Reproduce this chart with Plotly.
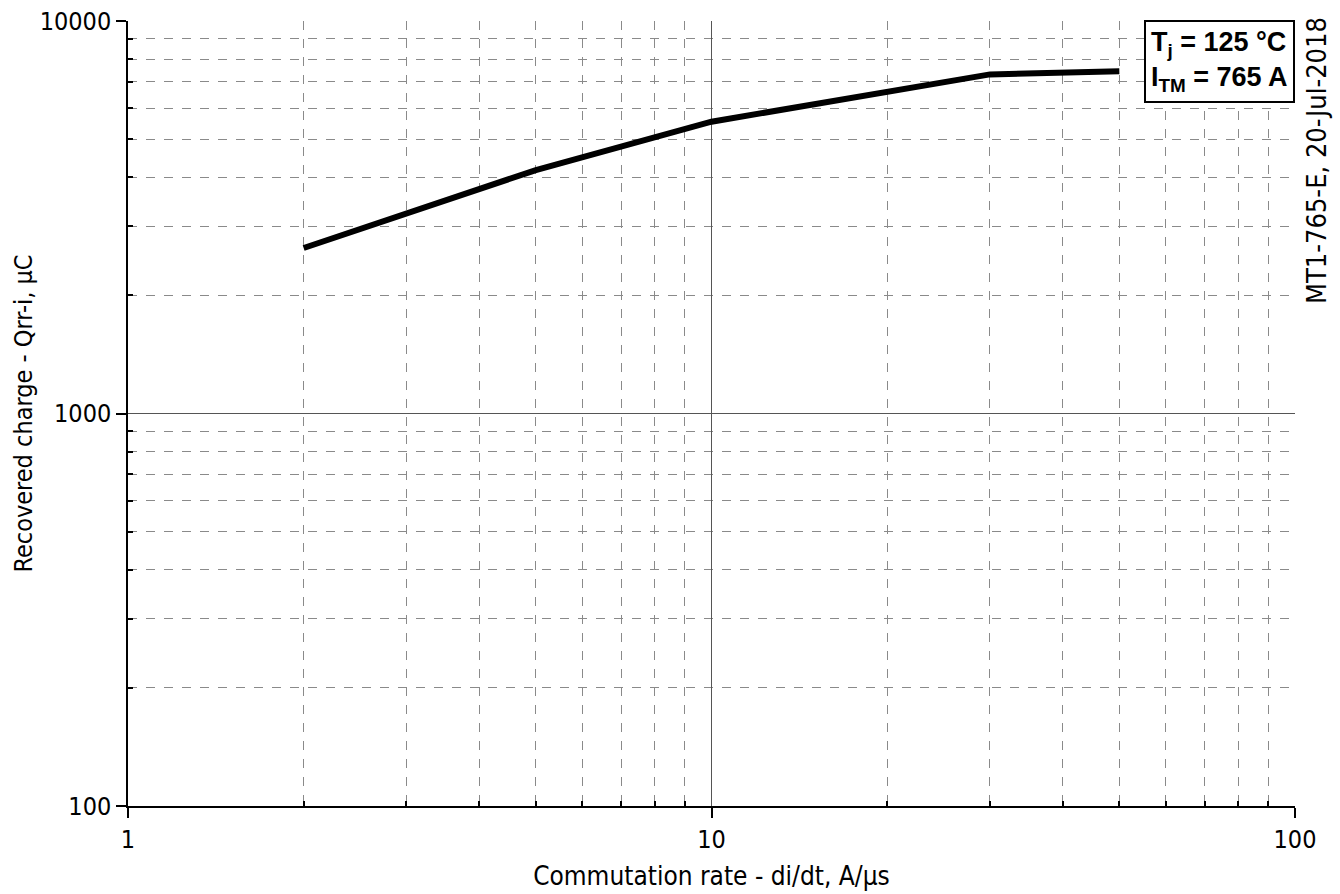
import plotly.graph_objects as go

# Data
di_dt = [2, 5, 10, 30, 50]            # A/µs
qrr = [2640, 4170, 5540, 7310, 7450]  # µC

x_major = [1, 10, 100]
x_minor = [2, 3, 4, 5, 6, 7, 8, 9, 20, 30, 40, 50, 60, 70, 80, 90]
y_major = [100, 1000, 10000]
y_minor = [200, 300, 400, 500, 600, 700, 800, 900,
           2000, 3000, 4000, 5000, 6000, 7000, 8000, 9000]

FONT = "DejaVu Sans Condensed, DejaVu Sans"

fig = go.Figure()
fig.add_trace(go.Scatter(x=di_dt, y=qrr, mode="lines",
                         line=dict(color="black", width=6), showlegend=False))

axis_common = dict(
    type="log", automargin=False,
    showline=True, linecolor="black", linewidth=1.5,
    showgrid=True, gridcolor="#555555", gridwidth=1,
    ticks="outside", ticklen=10, tickcolor="black", tickwidth=1.5,
    tickfont=dict(family=FONT, size=25, color="black"),
    zeroline=False, mirror=False,
)

fig.update_xaxes(
    **axis_common,
    range=[0, 2],
    tickvals=x_major, ticktext=[str(v) for v in x_major],
    minor=dict(tickvals=x_minor, showgrid=True, gridcolor="#8a8a8a",
               griddash="dash", gridwidth=1, ticks="inside", ticklen=5,
               tickcolor="black"),
    title=dict(text="Commutation rate - di/dt, A/µs",
               font=dict(family=FONT, size=26, color="black"), standoff=14),
)
fig.update_yaxes(
    **axis_common,
    range=[2, 4],
    tickvals=y_major, ticktext=[str(v) for v in y_major],
    minor=dict(tickvals=y_minor, showgrid=True, gridcolor="#8a8a8a",
               griddash="dash", gridwidth=1, ticks="inside", ticklen=5,
               tickcolor="black"),
    title=dict(text="Recovered charge - Qrr-i, µC",
               font=dict(family=FONT, size=25, color="black"), standoff=0),
)

fig.add_annotation(
    xref="paper", yref="paper", x=1, y=1, xanchor="right", yanchor="top",
    yshift=1,
    text="T<sub>j</sub> = 125 °C<br>I<sub>TM</sub> = 765 A",
    showarrow=False, align="left",
    font=dict(family="Liberation Sans, Arial", size=27, color="black", weight="bold"),
    bordercolor="black", borderwidth=2, borderpad=5, bgcolor="white",
)

fig.add_annotation(
    xref="paper", yref="paper", x=1.0, y=1.0, xanchor="left", yanchor="top",
    xshift=4, yshift=6, text="MT1-765-E, 20-Jul-2018", textangle=-90, showarrow=False,
    font=dict(family=FONT, size=27, color="black"),
)

fig.update_layout(
    width=1340, height=894,
    margin=dict(l=128, r=45, t=21, b=88),
    paper_bgcolor="white", plot_bgcolor="white",
)

fig.write_html("out.html")
